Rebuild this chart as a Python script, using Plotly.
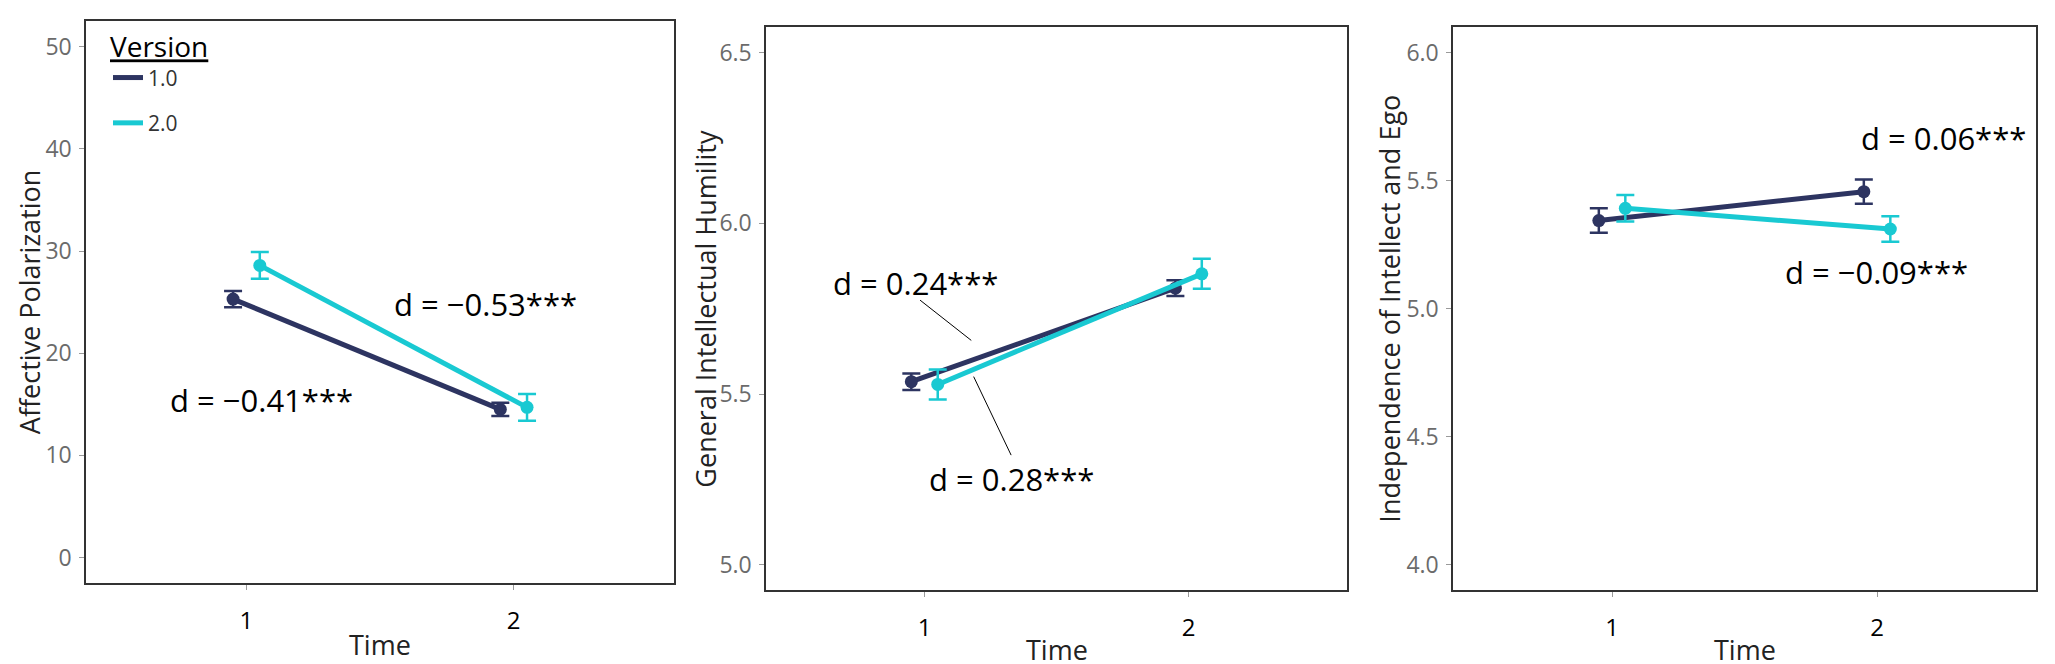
import numpy as np
import plotly.graph_objects as go

# values (means +/- error bars)
time = [1, 2]
dodge = 0.05

polar_v1 = [25.3, 14.5]
polar_v1_err = [0.8, 0.65]
polar_v2 = [28.6, 14.7]
polar_v2_err = [1.3, 1.3]

humility_v1 = [5.536, 5.810]
humility_v1_err = [0.024, 0.023]
humility_v2 = [5.528, 5.852]
humility_v2_err = [0.044, 0.044]

ego_v1 = [5.344, 5.457]
ego_v1_err = [0.048, 0.047]
ego_v2 = [5.392, 5.311]
ego_v2_err = [0.052, 0.050]

y_titles = ["Affective Polarization", "General Intellectual Humility",
            "Independence of Intellect and Ego"]
y_ticks = [[0, 10, 20, 30, 40, 50], [5.0, 5.5, 6.0, 6.5], [4.0, 4.5, 5.0, 5.5, 6.0]]

# effect size labels: panel, text, x, y
d_labels = [
    (1, "d = −0.41***", 1.057, 15.4),
    (1, "d = −0.53***", 1.893, 24.8),
    (2, "d = 0.24***", 0.966, 5.825),
    (2, "d = 0.28***", 1.328, 5.2525),
    (3, "d = 0.06***", 2.25, 5.665),
    (3, "d = −0.09***", 1.997, 5.142),
]
# leader lines in panel 2: x0, y0, x1, y1
leaders = [(0.983, 5.775, 1.177, 5.657), (1.186, 5.551, 1.328, 5.321)]

#-- Plotting
col_v1 = "#2D3461"
col_v2 = "#19C9D2"
font = "Open Sans"

panels = [
    (polar_v1, polar_v1_err, polar_v2, polar_v2_err),
    (humility_v1, humility_v1_err, humility_v2, humility_v2_err),
    (ego_v1, ego_v1_err, ego_v2, ego_v2_err),
]

x_dom = [[0.0380, 0.3241], [0.3689, 0.6516], [0.7032, 0.9869]]
y_dom = [[0.134, 0.980], [0.1230, 0.9714], [0.1230, 0.9714]]
y_rng = [[-2.5, 52.5], [4.925, 6.575], [3.9, 6.1]]

fig = go.Figure()

for i, (v1, e1, v2, e2) in enumerate(panels):
    n = "" if i == 0 else str(i + 1)
    for name, vals, errs, col, shift in [("1.0", v1, e1, col_v1, -dodge),
                                         ("2.0", v2, e2, col_v2, dodge)]:
        xs = np.array(time) + shift
        fig.add_trace(go.Scatter(x=xs, y=vals, mode="lines", name=name,
                                 line=dict(color=col, width=5),
                                 legendgroup=name, showlegend=(i == 0),
                                 xaxis="x" + n, yaxis="y" + n))
        fig.add_trace(go.Scatter(x=xs, y=vals, mode="markers", name=name,
                                 marker=dict(color=col, size=13),
                                 error_y=dict(type="data", array=errs, color=col,
                                              thickness=2.5, width=9),
                                 legendgroup=name, showlegend=False,
                                 xaxis="x" + n, yaxis="y" + n))

axis_common = dict(showline=True, linewidth=1.5, linecolor="#333333", mirror=True,
                   showgrid=False, zeroline=False, ticks="outside", ticklen=5,
                   tickcolor="#9a9a9a", tickwidth=1, automargin=False)

for i in range(3):
    n = "" if i == 0 else str(i + 1)
    fig.layout["xaxis" + n] = dict(axis_common, domain=x_dom[i], range=[0.4, 2.6],
                                   tickvals=time, anchor="y" + n,
                                   tickfont=dict(size=24, color="black", family=font),
                                   ticklabelstandoff=10)
    fig.layout["yaxis" + n] = dict(axis_common, domain=y_dom[i], range=y_rng[i],
                                   tickvals=y_ticks[i], anchor="x" + n,
                                   tickformat="d" if i == 0 else ".1f",
                                   tickfont=dict(size=23, color="#6b6b6b", family=font),
                                   ticklabelstandoff=3)

annotations = []
time_y = [1 - 636 / 664, 1 - 641 / 664, 1 - 641 / 664]
ytitle_x = [21 / 2055, 698 / 2055, 1382 / 2055]
for i in range(3):
    annotations.append(dict(text="Time", xref="paper", yref="paper",
                            x=sum(x_dom[i]) / 2, y=time_y[i], showarrow=False,
                            xanchor="center", yanchor="middle",
                            font=dict(size=27, color="#222222", family=font)))
    annotations.append(dict(text=y_titles[i], xref="paper", yref="paper",
                            x=ytitle_x[i], y=sum(y_dom[i]) / 2, textangle=-90,
                            showarrow=False, xanchor="center", yanchor="middle",
                            font=dict(size=27, color="#222222", family=font)))

for p, txt, x, y in d_labels:
    n = "" if p == 1 else str(p)
    annotations.append(dict(text=txt, x=x, y=y, xref="x" + n, yref="y" + n,
                            showarrow=False, xanchor="center", yanchor="middle",
                            font=dict(size=31, color="black", family=font)))

shapes = [dict(type="line", xref="x2", yref="y2", x0=a, y0=b, x1=c, y1=d,
               line=dict(color="black", width=1)) for a, b, c, d in leaders]

fig.update_layout(width=2055, height=664, margin=dict(l=0, r=0, t=0, b=0),
                  paper_bgcolor="white", plot_bgcolor="white",
                  annotations=annotations, shapes=shapes,
                  font=dict(family=font),
                  showlegend=True,
                  legend=dict(x=100 / 2055, y=1 - 13 / 664, xanchor="left", yanchor="top",
                              title=dict(text="<u>Version</u>",
                                         font=dict(size=28, color="black", family=font)),
                              font=dict(size=21, color="#333333", family=font),
                              traceorder="grouped", tracegroupgap=15,
                              bgcolor="rgba(0,0,0,0)"))

fig.write_html("out.html")
